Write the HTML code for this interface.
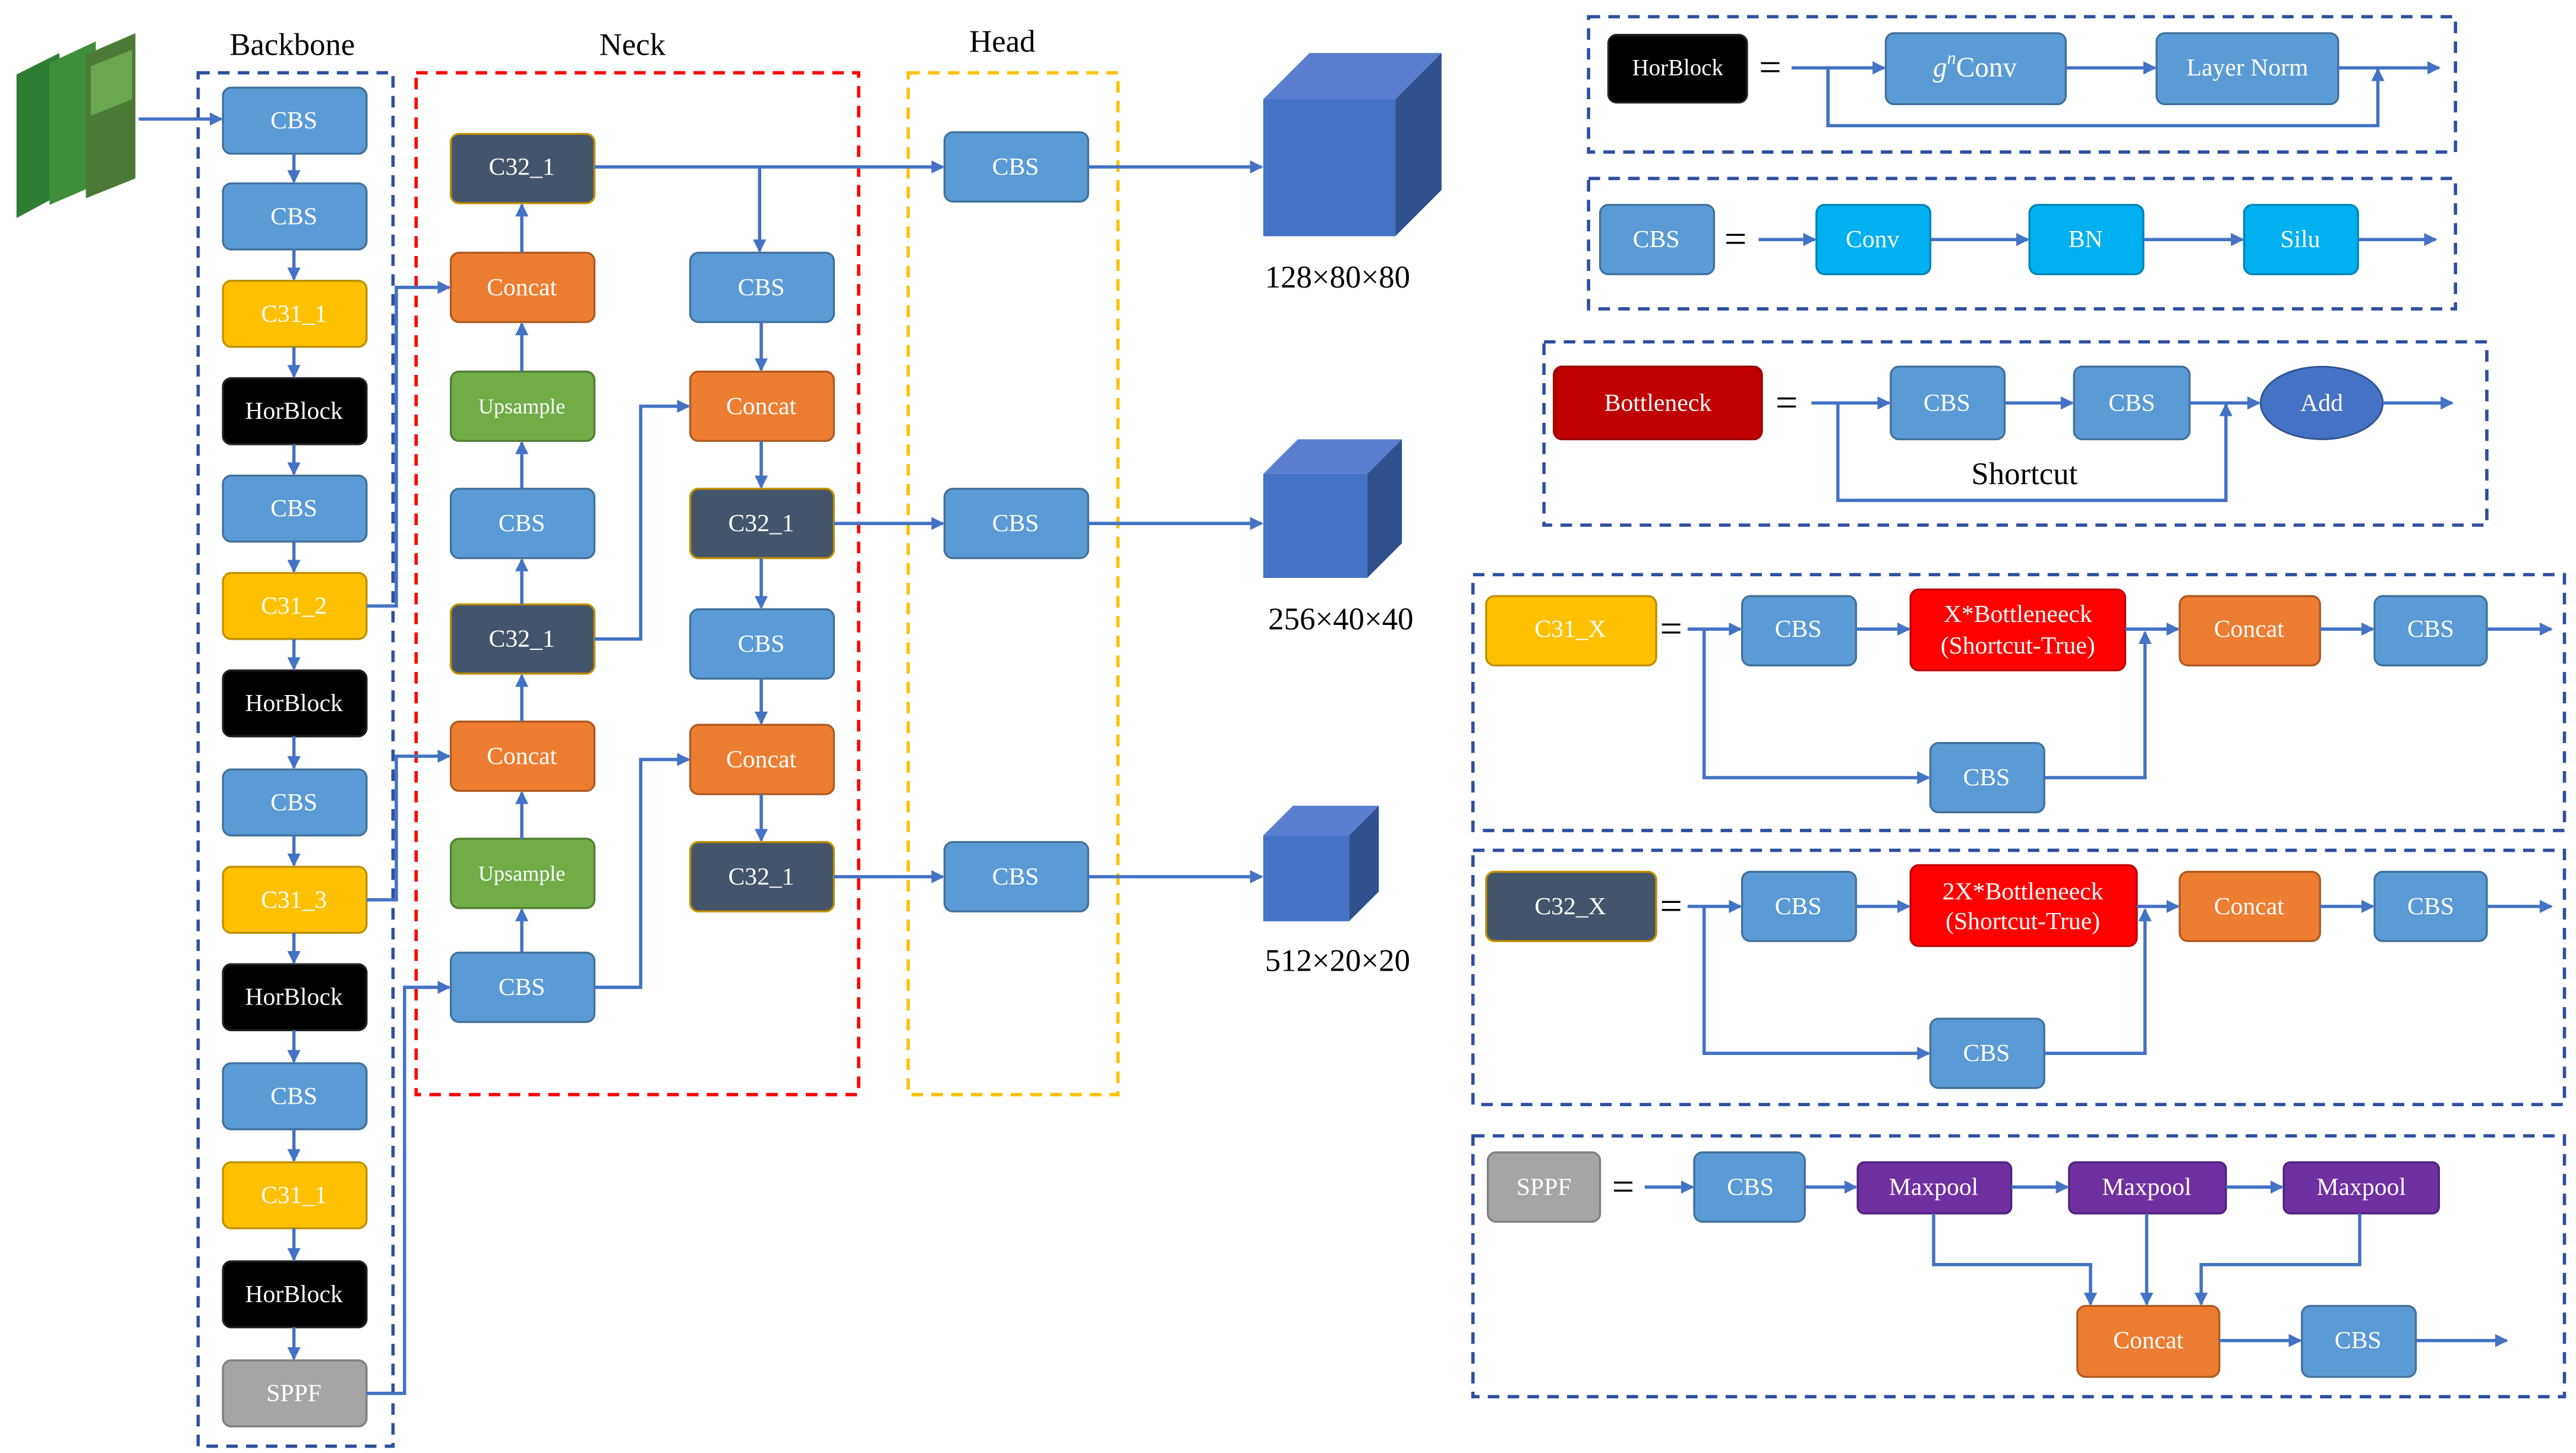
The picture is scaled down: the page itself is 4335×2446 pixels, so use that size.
<!DOCTYPE html>
<html><head><meta charset="utf-8"><style>
html,body{margin:0;padding:0;background:#fff;}
svg{display:block;}
text{font-family:"Liberation Serif",serif;}
.t{fill:#fff;font-size:15px;text-anchor:middle;dominant-baseline:central;}
.l{fill:#000;font-size:19px;text-anchor:middle;dominant-baseline:central;}
.a{stroke:#4472c4;stroke-width:2;fill:none;}
.cbs{fill:#5b9bd5;stroke:#41719c;stroke-width:1.2;}
.y{fill:#ffc000;stroke:#bf9000;stroke-width:1.2;}
.k{fill:#000;stroke:#222;stroke-width:1.2;}
.g{fill:#a5a5a5;stroke:#7f7f7f;stroke-width:1.2;}
.d{fill:#44546a;stroke:#bf9000;stroke-width:1.2;}
.o{fill:#ed7d31;stroke:#ae5a21;stroke-width:1.2;}
.gr{fill:#70ad47;stroke:#507e32;stroke-width:1.2;}
.c{fill:#00b0f0;stroke:#0085b5;stroke-width:1.2;}
.r{fill:#ff0000;stroke:#c00000;stroke-width:1.2;}
.dr{fill:#c00000;stroke:#900;stroke-width:1.2;}
.p{fill:#7030a0;stroke:#502080;stroke-width:1.2;}
.db{fill:none;stroke:#2f4f9f;stroke-width:2;stroke-dasharray:7,5;}
</style></head><body>
<svg width="4335" height="2446" viewBox="0 0 1560 880" xmlns="http://www.w3.org/2000/svg">
<defs><marker id="m" markerWidth="8" markerHeight="8" refX="7" refY="4" orient="auto" markerUnits="userSpaceOnUse"><path d="M0,0L8,4L0,8z" fill="#4472c4"/></marker></defs>

<!-- input images -->
<polygon points="10,45 36,32 36,118 10,132" fill="#2e7d32"/>
<polygon points="30,38 58,25 58,112 30,124" fill="#3f8f3a"/>
<polygon points="52,33 82,20 82,108 52,120" fill="#4a7a35"/>
<polygon points="55,40 80,30 80,60 55,70" fill="#6aa84f"/>

<!-- group boxes -->
<rect x="120" y="44" width="118" height="832" class="db"/>
<rect x="252" y="44" width="268" height="619" fill="none" stroke="#ff0000" stroke-width="2" stroke-dasharray="7,5"/>
<rect x="550" y="44" width="127" height="619" fill="none" stroke="#ffc000" stroke-width="2" stroke-dasharray="7,5"/>
<text class="l" x="177" y="27">Backbone</text>
<text class="l" x="383" y="27">Neck</text>
<text class="l" x="607" y="25">Head</text>

<!-- backbone -->
<g>
<rect x="135" y="53" width="87" height="40" rx="5" class="cbs"/><text class="t" x="178" y="73">CBS</text>
<rect x="135" y="111" width="87" height="40" rx="5" class="cbs"/><text class="t" x="178" y="131">CBS</text>
<rect x="135" y="170" width="87" height="40" rx="5" class="y"/><text class="t" x="178" y="190">C31_1</text>
<rect x="135" y="229" width="87" height="40" rx="5" class="k"/><text class="t" x="178" y="249">HorBlock</text>
<rect x="135" y="288" width="87" height="40" rx="5" class="cbs"/><text class="t" x="178" y="308">CBS</text>
<rect x="135" y="347" width="87" height="40" rx="5" class="y"/><text class="t" x="178" y="367">C31_2</text>
<rect x="135" y="406" width="87" height="40" rx="5" class="k"/><text class="t" x="178" y="426">HorBlock</text>
<rect x="135" y="466" width="87" height="40" rx="5" class="cbs"/><text class="t" x="178" y="486">CBS</text>
<rect x="135" y="525" width="87" height="40" rx="5" class="y"/><text class="t" x="178" y="545">C31_3</text>
<rect x="135" y="584" width="87" height="40" rx="5" class="k"/><text class="t" x="178" y="604">HorBlock</text>
<rect x="135" y="644" width="87" height="40" rx="5" class="cbs"/><text class="t" x="178" y="664">CBS</text>
<rect x="135" y="704" width="87" height="40" rx="5" class="y"/><text class="t" x="178" y="724">C31_1</text>
<rect x="135" y="764" width="87" height="40" rx="5" class="k"/><text class="t" x="178" y="784">HorBlock</text>
<rect x="135" y="824" width="87" height="40" rx="5" class="g"/><text class="t" x="178" y="844">SPPF</text>
</g>
<g class="a" marker-end="url(#m)">
<path d="M84,72H134"/>
<path d="M178,93V110"/><path d="M178,151V169"/><path d="M178,210V228"/><path d="M178,269V287"/>
<path d="M178,328V346"/><path d="M178,387V405"/><path d="M178,446V465"/><path d="M178,506V524"/>
<path d="M178,565V583"/><path d="M178,624V643"/><path d="M178,684V703"/><path d="M178,744V763"/><path d="M178,804V823"/>
<path d="M222,367H240V174H272"/>
<path d="M222,545H240V458H272"/>
<path d="M222,844H245V598H272"/>
</g>

<!-- neck left -->
<rect x="273" y="81" width="87" height="42" rx="5" class="d"/><text class="t" x="316" y="101">C32_1</text>
<rect x="273" y="153" width="87" height="42" rx="5" class="o"/><text class="t" x="316" y="174">Concat</text>
<rect x="273" y="225" width="87" height="42" rx="5" class="gr"/><text class="t" x="316" y="246" style="font-size:13px">Upsample</text>
<rect x="273" y="296" width="87" height="42" rx="5" class="cbs"/><text class="t" x="316" y="317">CBS</text>
<rect x="273" y="366" width="87" height="42" rx="5" class="d"/><text class="t" x="316" y="387">C32_1</text>
<rect x="273" y="437" width="87" height="42" rx="5" class="o"/><text class="t" x="316" y="458">Concat</text>
<rect x="273" y="508" width="87" height="42" rx="5" class="gr"/><text class="t" x="316" y="529" style="font-size:13px">Upsample</text>
<rect x="273" y="577" width="87" height="42" rx="5" class="cbs"/><text class="t" x="316" y="598">CBS</text>
<!-- neck right -->
<rect x="418" y="153" width="87" height="42" rx="5" class="cbs"/><text class="t" x="461" y="174">CBS</text>
<rect x="418" y="225" width="87" height="42" rx="5" class="o"/><text class="t" x="461" y="246">Concat</text>
<rect x="418" y="296" width="87" height="42" rx="5" class="d"/><text class="t" x="461" y="317">C32_1</text>
<rect x="418" y="369" width="87" height="42" rx="5" class="cbs"/><text class="t" x="461" y="390">CBS</text>
<rect x="418" y="439" width="87" height="42" rx="5" class="o"/><text class="t" x="461" y="460">Concat</text>
<rect x="418" y="510" width="87" height="42" rx="5" class="d"/><text class="t" x="461" y="531">C32_1</text>
<!-- head -->
<rect x="572" y="80" width="87" height="42" rx="5" class="cbs"/><text class="t" x="615" y="101">CBS</text>
<rect x="572" y="296" width="87" height="42" rx="5" class="cbs"/><text class="t" x="615" y="317">CBS</text>
<rect x="572" y="510" width="87" height="42" rx="5" class="cbs"/><text class="t" x="615" y="531">CBS</text>

<g class="a" marker-end="url(#m)">
<path d="M316,577V551"/><path d="M316,508V480"/><path d="M316,437V409"/><path d="M316,366V339"/>
<path d="M316,296V268"/><path d="M316,225V196"/><path d="M316,153V124"/>
<path d="M360,101H571"/><path d="M460,101V152"/>
<path d="M461,195V224"/><path d="M461,267V295"/><path d="M461,338V368"/><path d="M461,411V438"/><path d="M461,481V509"/>
<path d="M360,387H388V246H417"/>
<path d="M360,598H388V460H417"/>
<path d="M505,317H571"/><path d="M505,531H571"/>
<path d="M659,101H764"/><path d="M659,317H764"/><path d="M659,531H764"/>
</g>

<!-- cubes -->
<polygon points="765,60 793,32 873,32 845,60" fill="#5a7fd0"/>
<polygon points="845,60 873,32 873,115 845,143" fill="#2f528f"/>
<rect x="765" y="60" width="80" height="83" fill="#4472c4"/>
<polygon points="765,287 786,266 849,266 828,287" fill="#5a7fd0"/>
<polygon points="828,287 849,266 849,329 828,350" fill="#2f528f"/>
<rect x="765" y="287" width="63" height="63" fill="#4472c4"/>
<polygon points="765,506 783,488 835,488 817,506" fill="#5a7fd0"/>
<polygon points="817,506 835,488 835,540 817,558" fill="#2f528f"/>
<rect x="765" y="506" width="52" height="52" fill="#4472c4"/>
<text class="l" x="810" y="168">128×80×80</text>
<text class="l" x="812" y="375">256×40×40</text>
<text class="l" x="810" y="582">512×20×20</text>

<!-- Panel 1 -->
<rect x="962" y="10" width="525" height="82" class="db"/>
<rect x="974" y="21" width="84" height="41" rx="5" class="k"/><text class="t" x="1016" y="41" style="font-size:14px">HorBlock</text>
<text class="l" x="1072" y="41" style="font-size:24px">=</text>
<rect x="1142" y="20" width="109" height="43" rx="5" class="cbs"/><text class="t" x="1196" y="41" style="font-size:17px"><tspan font-style="italic">g</tspan><tspan dy="-6" font-size="11" font-style="italic">n</tspan><tspan dy="6">Conv</tspan></text>
<rect x="1306" y="20" width="110" height="43" rx="5" class="cbs"/><text class="t" x="1361" y="41">Layer Norm</text>
<g class="a" marker-end="url(#m)">
<path d="M1085,41H1141"/><path d="M1251,41H1305"/><path d="M1416,41H1477"/>
<path d="M1107,41V76H1440V42"/>
</g>

<!-- Panel 2 -->
<rect x="962" y="108" width="525" height="79" class="db"/>
<rect x="969" y="124" width="69" height="42" rx="5" class="cbs"/><text class="t" x="1003" y="145">CBS</text>
<text class="l" x="1051" y="145" style="font-size:24px">=</text>
<rect x="1100" y="124" width="69" height="42" rx="5" class="c"/><text class="t" x="1134" y="145">Conv</text>
<rect x="1229" y="124" width="69" height="42" rx="5" class="c"/><text class="t" x="1263" y="145">BN</text>
<rect x="1359" y="124" width="69" height="42" rx="5" class="c"/><text class="t" x="1393" y="145">Silu</text>
<g class="a" marker-end="url(#m)">
<path d="M1065,145H1099"/><path d="M1169,145H1228"/><path d="M1298,145H1358"/><path d="M1428,145H1475"/>
</g>

<!-- Panel 3 -->
<rect x="935" y="207" width="571" height="111" class="db"/>
<rect x="941" y="222" width="126" height="44" rx="5" class="dr"/><text class="t" x="1004" y="244">Bottleneck</text>
<text class="l" x="1082" y="244" style="font-size:24px">=</text>
<rect x="1145" y="222" width="69" height="44" rx="5" class="cbs"/><text class="t" x="1179" y="244">CBS</text>
<rect x="1256" y="222" width="70" height="44" rx="5" class="cbs"/><text class="t" x="1291" y="244">CBS</text>
<ellipse cx="1406" cy="244" rx="37" ry="22" fill="#4472c4" stroke="#2f528f"/><text class="t" x="1406" y="244">Add</text>
<text class="l" x="1226" y="287">Shortcut</text>
<g class="a" marker-end="url(#m)">
<path d="M1097,244H1144"/><path d="M1214,244H1255"/><path d="M1326,244H1368"/><path d="M1443,244H1485"/>
<path d="M1113,244V303H1348V245"/>
</g>

<!-- Panel 4 -->
<rect x="892" y="348" width="661" height="155" class="db"/>
<rect x="900" y="361" width="103" height="42" rx="5" class="y"/><text class="t" x="951" y="381">C31_X</text>
<text class="l" x="1012" y="381" style="font-size:24px">=</text>
<rect x="1055" y="361" width="69" height="42" rx="5" class="cbs"/><text class="t" x="1089" y="381">CBS</text>
<rect x="1157" y="357" width="130" height="49" rx="5" class="r"/><text class="t" x="1222" y="372">X*Bottleneeck</text><text class="t" x="1222" y="391">(Shortcut-True)</text>
<rect x="1320" y="361" width="85" height="42" rx="5" class="o"/><text class="t" x="1362" y="381">Concat</text>
<rect x="1438" y="361" width="68" height="42" rx="5" class="cbs"/><text class="t" x="1472" y="381">CBS</text>
<rect x="1169" y="450" width="69" height="42" rx="5" class="cbs"/><text class="t" x="1203" y="471">CBS</text>
<g class="a" marker-end="url(#m)">
<path d="M1022,381H1054"/><path d="M1124,381H1156"/><path d="M1287,381H1319"/><path d="M1405,381H1437"/><path d="M1506,381H1545"/>
<path d="M1032,381V471H1168"/><path d="M1238,471H1299V383"/>
</g>

<!-- Panel 5 -->
<rect x="892" y="515" width="661" height="154" class="db"/>
<rect x="900" y="528" width="103" height="42" rx="5" class="d"/><text class="t" x="951" y="549">C32_X</text>
<text class="l" x="1012" y="549" style="font-size:24px">=</text>
<rect x="1055" y="528" width="69" height="42" rx="5" class="cbs"/><text class="t" x="1089" y="549">CBS</text>
<rect x="1157" y="524" width="137" height="49" rx="5" class="r"/><text class="t" x="1225" y="540">2X*Bottleneeck</text><text class="t" x="1225" y="558">(Shortcut-True)</text>
<rect x="1320" y="528" width="85" height="42" rx="5" class="o"/><text class="t" x="1362" y="549">Concat</text>
<rect x="1438" y="528" width="68" height="42" rx="5" class="cbs"/><text class="t" x="1472" y="549">CBS</text>
<rect x="1169" y="617" width="69" height="42" rx="5" class="cbs"/><text class="t" x="1203" y="638">CBS</text>
<g class="a" marker-end="url(#m)">
<path d="M1022,549H1054"/><path d="M1124,549H1156"/><path d="M1294,549H1319"/><path d="M1405,549H1437"/><path d="M1506,549H1545"/>
<path d="M1032,549V638H1168"/><path d="M1238,638H1299V551"/>
</g>

<!-- Panel 6 -->
<rect x="892" y="688" width="661" height="158" class="db"/>
<rect x="901" y="698" width="68" height="42" rx="5" class="g"/><text class="t" x="935" y="719">SPPF</text>
<text class="l" x="983" y="719" style="font-size:24px">=</text>
<rect x="1026" y="698" width="67" height="42" rx="5" class="cbs"/><text class="t" x="1060" y="719">CBS</text>
<rect x="1125" y="704" width="93" height="31" rx="4" class="p"/><text class="t" x="1171" y="719">Maxpool</text>
<rect x="1253" y="704" width="95" height="31" rx="4" class="p"/><text class="t" x="1300" y="719">Maxpool</text>
<rect x="1383" y="704" width="94" height="31" rx="4" class="p"/><text class="t" x="1430" y="719">Maxpool</text>
<rect x="1258" y="791" width="86" height="43" rx="5" class="o"/><text class="t" x="1301" y="812">Concat</text>
<rect x="1394" y="791" width="69" height="43" rx="5" class="cbs"/><text class="t" x="1428" y="812">CBS</text>
<g class="a" marker-end="url(#m)">
<path d="M996,719H1025"/><path d="M1093,719H1124"/><path d="M1218,719H1252"/><path d="M1348,719H1382"/>
<path d="M1171,735V766H1266V790"/><path d="M1300,735V790"/><path d="M1429,735V766H1333V790"/>
<path d="M1344,812H1393"/><path d="M1463,812H1518"/>
</g>
</svg>
</body></html>
